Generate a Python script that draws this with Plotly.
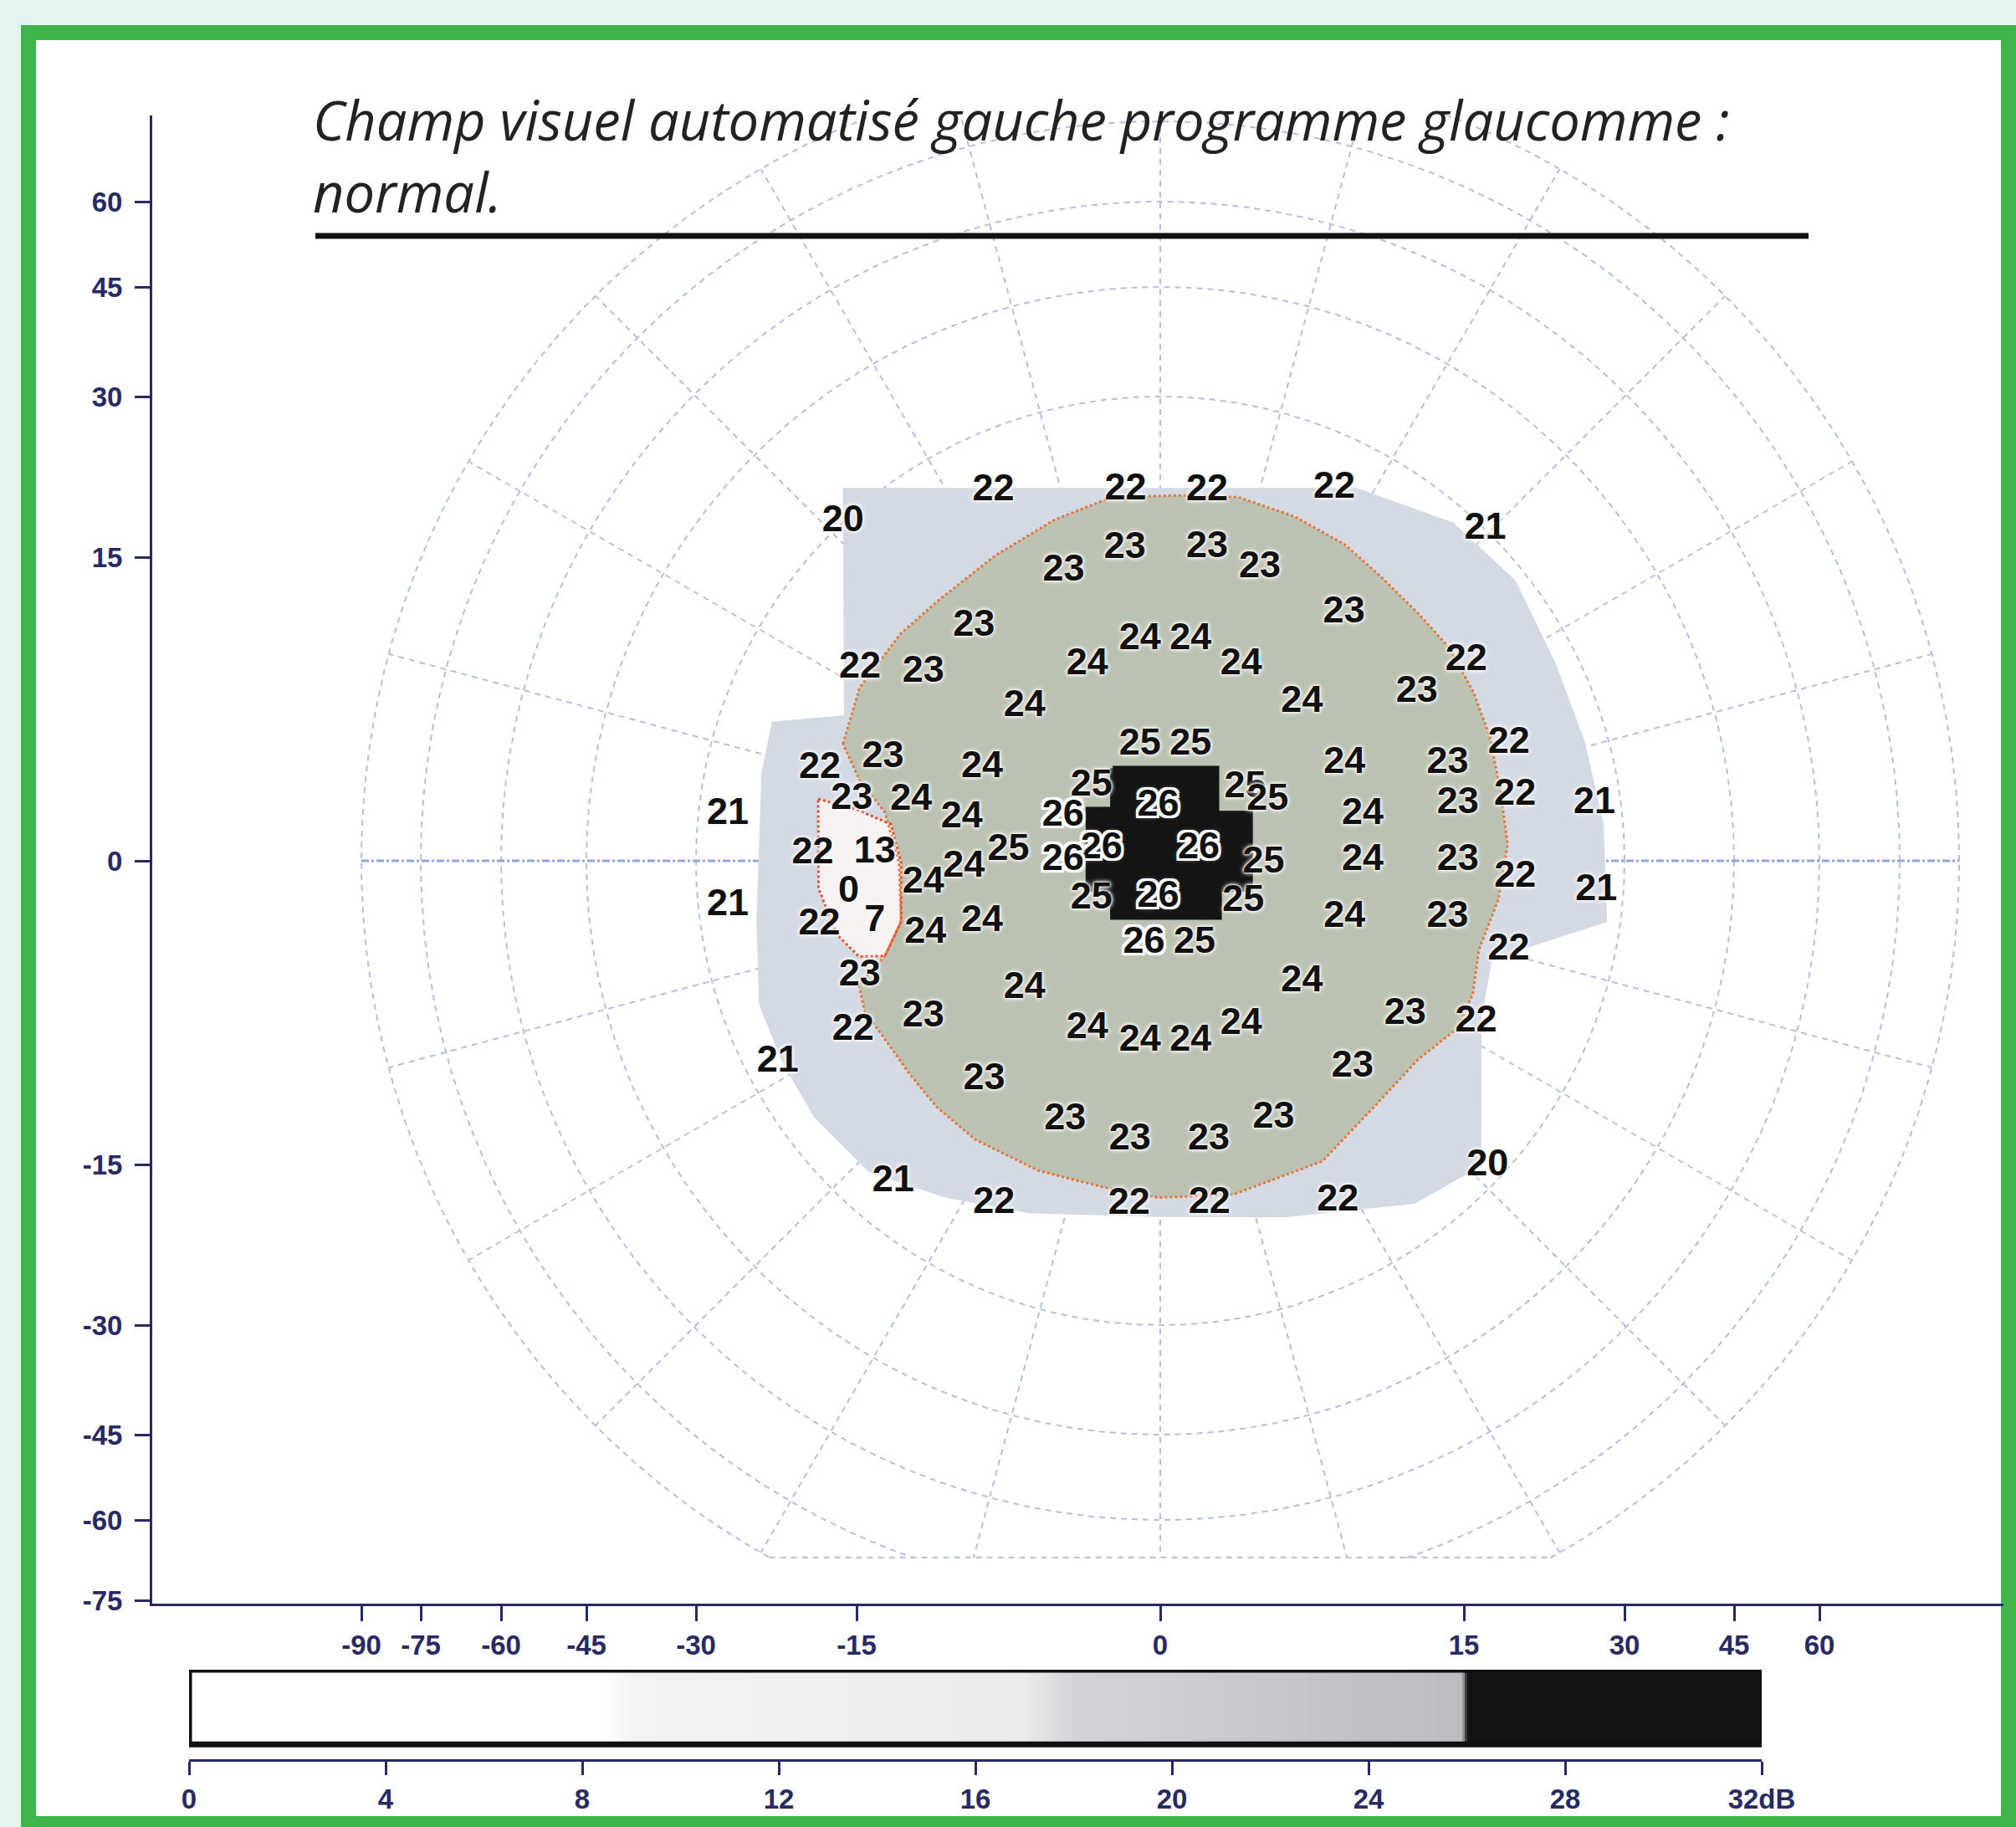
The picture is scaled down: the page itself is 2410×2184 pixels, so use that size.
import numpy as np
import plotly.graph_objects as go

W, H = 2410, 2184

# ---------------- data ----------------
# Threshold values (dB) at the tested locations
DB_VALUES = [22, 22, 22, 22, 20, 21, 23, 23, 23, 23,
             23, 23, 22, 23, 24, 24, 24, 24, 22, 23,
             24, 24, 25, 25, 22, 23, 22, 24, 24, 23,
             25, 26, 25, 25, 23, 24, 24, 21, 26, 24,
             23, 22, 21, 22, 13, 25, 24, 26, 26, 25,
             26, 24, 23, 22, 21, 0, 24, 21, 25, 26,
             25, 22, 7, 24, 24, 24, 23, 22, 26, 25,
             23, 24, 24, 22, 23, 24, 24, 24, 24, 23,
             22, 21, 23, 23, 23, 23, 23, 23, 21, 22,
             22, 22, 22, 20]
# Stimulus positions in degrees (horizontal, vertical)
X_DEG = [-10.1, -2.0, 2.7, 10.6, -20.5, 21.0, -1.8, 2.4, -4.8, 5.0,
         9.2, -9.2, -16.8, -11.7, -3.6, -1.0, 1.5, 4.0, 17.4, 12.8,
         -6.7, 7.0, -1.0, 1.5, 19.9, -13.7, -18.9, -8.8, 9.1, 14.2,
         -3.4, -0.1, 4.2, 5.3, -15.7, -12.3, -9.8, -27.1, -4.8, 10.0,
         14.7, 20.0, 27.3, -19.1, -14.1, -7.5, -9.7, -2.9, 1.9, 5.1,
         -4.8, 10.0, 14.7, 19.8, 27.4, -15.8, -11.7, -27.1, -3.4, -0.1,
         4.1, -18.7, -14.1, -11.6, -8.8, 9.1, 14.2, 19.6, -0.8, 1.7,
         -15.6, -6.7, 7.0, -17.0, -11.7, -3.6, -1.0, 1.5, 4.0, 12.1,
         17.6, -23.9, -8.7, 9.5, -4.7, -1.5, 2.4, 5.6, -16.4, -9.7,
         -1.7, 2.7, 10.4, 20.8]
Y_DEG = [22.4, 21.3, 21.3, 22.7, 21.9, 21.4, 15.9, 16.0, 14.4, 14.7,
         12.4, 11.6, 10.8, 9.3, 9.7, 10.9, 10.9, 9.7, 11.4, 8.4,
         7.6, 7.8, 5.7, 5.7, 6.7, 5.1, 5.1, 4.6, 4.8, 4.8,
         3.7, 2.7, 3.6, 3.0, 3.1, 3.0, 2.1, 2.9, 2.2, 2.3,
         2.8, 3.7, 3.6, 0.4, 0.4, 0.5, -0.3, 0.6, 0.6, -0.1,
         0.0, 0.0, 0.0, -0.9, -1.9, -1.6, -1.1, -2.8, -1.9, -1.8,
         -2.0, -3.5, -3.0, -3.6, -3.0, -2.8, -2.8, -5.0, -4.1, -4.1,
         -6.0, -6.3, -6.0, -9.4, -7.7, -8.3, -8.9, -8.9, -8.1, -7.6,
         -9.0, -12.6, -10.8, -10.2, -12.8, -13.8, -13.8, -12.7, -19.7, -20.0,
         -18.8, -18.8, -19.9, -19.4]

# Tested region (light area), in degrees
OUTER_X = [-21.7, 12.1, 18.6, 22.7, 25.0, 26.8, 28.1, 28.5, 18.2, 18.0, 20.3, 15.8,
           7.3, -0.1, -7.6, -12.9, -18.1, -21.6, -23.5, -24.9, -24.5, -24.2, -23.7, -17.4]
OUTER_Y = [25.5, 23.0, 21.5, 17.9, 12.4, 7.5, 2.3, -3.9, -5.4, -8.8, -19.3, -21.3,
           -20.7, -19.9, -20.4, -20.2, -19.3, -16.0, -12.6, -8.9, -3.7, 5.3, 8.5, 8.0]
# Isopter (orange dotted line), degrees
ISO_X = [-17.1, -16.5, -14.2, -12.0, -9.0, -5.9, -2.8, 1.3, 4.5, 7.7, 10.5, 12.4, 14.5,
         16.2, 17.5, 18.3, 18.7, 19.1, 18.3, 16.9, 16.9, 16.1, 13.5, 11.2, 8.8, 4.0,
         -0.1, -3.1, -6.5, -9.9, -11.9, -13.2, -14.5, -15.7, -15.8, -13.6, -12.8, -12.9,
         -13.6, -15.2]
ISO_Y = [6.3, 9.5, 12.4, 14.2, 16.8, 19.1, 20.7, 20.8, 20.9, 19.7, 18.0, 16.0, 13.8,
         12.0, 9.4, 6.8, 3.7, 0.9, -2.1, -4.7, -7.2, -9.1, -10.4, -12.9, -16.3, -18.1,
         -18.1, -17.3, -16.5, -14.9, -13.1, -11.3, -9.4, -8.0, -6.5, -4.7, -3.0, -0.1,
         2.4, 4.1]
# Blind spot outline, degrees
BLIND_X = [-18.8, -15.3, -13.3, -12.8, -12.8, -13.6, -15.4, -17.2, -18.6]
BLIND_Y = [3.4, 2.6, 1.8, -0.1, -3.0, -4.7, -4.9, -3.9, -1.5]
# Central >= 26 dB zone, degrees
CROSS_X = [-2.35, 2.79, 2.79, 4.45, 4.45, 2.92, 2.92, -2.35, -2.35, -3.56, -3.56, -2.35]
CROSS_Y = [4.57, 4.57, 2.35, 2.35, -1.40, -1.40, -2.79, -2.79, -1.40, -1.40, 2.54, 2.54]

X_TICKS = [-90, -75, -60, -45, -30, -15, 0, 15, 30, 45, 60]
Y_TICKS = [60, 45, 30, 15, 0, -15, -30, -45, -60, -75]
GRID_RINGS = [15, 30, 45, 60, 75, 90]
MERIDIAN_STEP = 15
FIELD_BOTTOM_DEG = 67

DB_TICKS = [0, 4, 8, 12, 16, 20, 24, 28, 32]
DB_TICK_TEXT = ["0", "4", "8", "12", "16", "20", "24", "28", "32dB"]
BLACK_LEVEL_DB = 26

TITLE_1 = "Champ visuel automatisé gauche programme glaucomme :"
TITLE_2 = "normal."

# eccentricity scale of the chart (degrees -> chart units), periphery compressed
SCALE_DEG = [0, 15, 30, 45, 60, 75, 90]
SCALE_UNITS = [0, 363, 555, 686, 788, 884, 955]


def ecc(r):
    return np.interp(np.abs(r), SCALE_DEG, SCALE_UNITS)


def axis_pos(v):
    return float(np.sign(v) * ecc(abs(v)))


def to_chart(xd, yd):
    xd = np.asarray(xd, float)
    yd = np.asarray(yd, float)
    r = np.hypot(xd, yd)
    k = np.divide(ecc(r), r, out=np.zeros_like(r), where=r > 0)
    return (xd * k).tolist(), (yd * k).tolist()


def closed(xs, ys):
    cx, cy = to_chart(xs, ys)
    return cx + [cx[0]], cy + [cy[0]]


def px_x(px):
    return px / W


def px_y(py):
    return 1 - py / H


NAVY = "#2a2a62"
GRID = "#b8bfd6"

# ---------------- grid ----------------
bottom = float(ecc(FIELD_BOTTOM_DEG))
R90 = float(ecc(90))
theta = np.linspace(0, 2 * np.pi, 1441)
gx, gy = [], []
for ring in GRID_RINGS:
    R = float(ecc(ring))
    for a, b in zip(R * np.cos(theta), R * np.sin(theta)):
        if b < -bottom - 0.5:
            gx.append(None); gy.append(None)
        else:
            gx.append(float(a)); gy.append(float(b))
    gx.append(None); gy.append(None)

rx, ry = [], []
for ang in range(0, 360, MERIDIAN_STEP):
    if ang in (0, 180):
        continue
    a = np.radians(ang)
    s = np.sin(a)
    L = R90
    if s < 0 and R90 * (-s) > bottom:
        L = bottom / (-s)
    rx += [0.0, float(L * np.cos(a)), None]
    ry += [0.0, float(L * np.sin(a)), None]
half = float(np.sqrt(R90 ** 2 - bottom ** 2))
rx += [-half, half, None]
ry += [-bottom, -bottom, None]

fig = go.Figure()
fig.add_trace(go.Scatter(x=gx, y=gy, mode="lines", line=dict(color=GRID, width=2, dash="7px,6px"),
                         hoverinfo="skip", showlegend=False))
fig.add_trace(go.Scatter(x=rx, y=ry, mode="lines", line=dict(color=GRID, width=2, dash="7px,6px"),
                         hoverinfo="skip", showlegend=False))
fig.add_trace(go.Scatter(x=[-R90, R90], y=[0, 0], mode="lines",
                         line=dict(color="#93a5d8", width=3, dash="dashdot"),
                         hoverinfo="skip", showlegend=False))

# ---------------- regions ----------------
ox, oy = closed(OUTER_X, OUTER_Y)
fig.add_trace(go.Scatter(x=ox, y=oy, mode="lines", fill="toself", fillcolor="#d4dae4",
                         line=dict(width=0, color="#d4dae4"), hoverinfo="skip", showlegend=False))
ix, iy = closed(ISO_X, ISO_Y)
fig.add_trace(go.Scatter(x=ix, y=iy, mode="lines", fill="toself", fillcolor="#bcc2b2",
                         line=dict(width=0, color="#bcc2b2"), hoverinfo="skip", showlegend=False))
cx_, cy_ = closed(CROSS_X, CROSS_Y)
fig.add_trace(go.Scatter(x=cx_, y=cy_, mode="lines", fill="toself", fillcolor="#141414",
                         line=dict(width=6, color="#141414"), hoverinfo="skip", showlegend=False))
bx, by = closed(BLIND_X, BLIND_Y)
fig.add_trace(go.Scatter(x=bx, y=by, mode="lines", fill="toself", fillcolor="#f6f2f1",
                         line=dict(width=3, color="#e0502e", dash="dot"), hoverinfo="skip",
                         showlegend=False))
fig.add_trace(go.Scatter(x=ix, y=iy, mode="lines", line=dict(width=3, color="#e6763a", dash="dot"),
                         hoverinfo="skip", showlegend=False))

# ---------------- threshold labels ----------------
lx, ly = to_chart(X_DEG, Y_DEG)
normal_idx = [i for i, v in enumerate(DB_VALUES) if v < BLACK_LEVEL_DB]
black_idx = [i for i, v in enumerate(DB_VALUES) if v >= BLACK_LEVEL_DB]
label_family = "Liberation Sans, Arial, sans-serif"
fig.add_trace(go.Scatter(
    x=[lx[i] for i in normal_idx], y=[ly[i] for i in normal_idx], mode="text",
    text=[str(DB_VALUES[i]) for i in normal_idx], textposition="middle center",
    textfont=dict(family=label_family, size=45, color="#111111", weight="bold",
                  shadow="0px 0px 2px #fff7f2, 0px 0px 3px #fff7f2, 0px 0px 4px #ffffff, "
                         "0px 0px 6px #ffffff"),
    hoverinfo="skip", showlegend=False))
fig.add_trace(go.Scatter(
    x=[lx[i] for i in black_idx], y=[ly[i] for i in black_idx], mode="text",
    text=[str(DB_VALUES[i]) for i in black_idx], textposition="middle center",
    textfont=dict(family=label_family, size=45, color="#111111", weight="bold",
                  shadow="3px 0px 0px #ffffff, -3px 0px 0px #ffffff, 0px 3px 0px #ffffff, "
                         "0px -3px 0px #ffffff, 3px 3px 0px #ffffff, -3px -3px 0px #ffffff, "
                         "3px -3px 0px #ffffff, -3px 3px 0px #ffffff, 0px 0px 6px #ffffff"),
    hoverinfo="skip", showlegend=False))

# ---------------- dB scale bar ----------------
edges = np.linspace(0, 32, 641)
centers = (edges[:-1] + edges[1:]) / 2
fig.add_trace(go.Heatmap(
    x=edges.tolist(), y=[0, 1], z=[centers.tolist()], xaxis="x2", yaxis="y2",
    zmin=0, zmax=32, showscale=False, hoverinfo="skip",
    colorscale=[[0, "#ffffff"], [8.5 / 32, "#ffffff"], [9.0 / 32, "#f3f3f4"],
                [17.0 / 32, "#ebebed"], [18.0 / 32, "#d4d4d8"], [25.9 / 32, "#bcbcc0"],
                [26.0 / 32, "#141414"], [1, "#141414"]]))

tick_font = dict(family="Liberation Sans Narrow, Liberation Sans, Arial, sans-serif", size=33,
                 color=NAVY, weight="bold")
axis_common = dict(ticks="outside", tickwidth=3, tickcolor=NAVY, showline=True, linecolor=NAVY,
                   linewidth=3, showgrid=False, zeroline=False, tickfont=tick_font,
                   automargin=False, fixedrange=True)

fig.update_layout(
    width=W, height=H, autosize=False,
    margin=dict(l=0, r=0, t=0, b=0, pad=0, autoexpand=False),
    paper_bgcolor="#e4f4f0", plot_bgcolor="rgba(0,0,0,0)",
    hovermode=False, showlegend=False,
    xaxis=dict(domain=[px_x(182), px_x(2395)], range=[-1205, 1008], anchor="y",
               tickvals=[axis_pos(t) for t in X_TICKS], ticktext=[str(t) for t in X_TICKS],
               ticklen=18, **axis_common),
    yaxis=dict(domain=[px_y(1917), px_y(138)], range=[-888, 891], anchor="x",
               tickvals=[axis_pos(t) for t in Y_TICKS], ticktext=[str(t) for t in Y_TICKS],
               ticklen=18, ticklabelstandoff=8, **axis_common),
    xaxis2=dict(domain=[px_x(226), px_x(2106)], range=[0, 32], anchor="y2",
                tickvals=DB_TICKS, ticktext=DB_TICK_TEXT, ticklen=16, **axis_common),
    yaxis2=dict(domain=[px_y(2103), px_y(1996)], range=[-0.2, 1.0], anchor="x2",
                visible=False, automargin=False, fixedrange=True),
    shapes=[
        dict(type="rect", xref="paper", yref="paper", x0=px_x(34), x1=px_x(2401),
             y0=px_y(2180), y1=px_y(39), line=dict(color="#3db54a", width=18),
             fillcolor="#ffffff", layer="below"),
        dict(type="line", xref="paper", yref="paper", x0=px_x(377), x1=px_x(2162),
             y0=px_y(282), y1=px_y(282), line=dict(color="#111111", width=7)),
        dict(type="rect", xref="x2", yref="y2", x0=0, x1=32, y0=0, y1=1,
             line=dict(color="#111111", width=7)),
    ],
    annotations=[
        dict(text=TITLE_1, xref="paper", yref="paper", x=px_x(372), y=px_y(143),
             xanchor="left", yanchor="middle", showarrow=False,
             font=dict(family="Open Sans, Lato, sans-serif", size=65, color="#222222",
                       style="italic")),
        dict(text=TITLE_2, xref="paper", yref="paper", x=px_x(372), y=px_y(229),
             xanchor="left", yanchor="middle", showarrow=False,
             font=dict(family="Open Sans, Lato, sans-serif", size=65, color="#222222",
                       style="italic")),
    ],
)

fig.write_html(
    "out.html",
    config={"displayModeBar": False, "responsive": False},
    post_script="document.body.style.margin='0';document.body.style.overflow='hidden';",
)
